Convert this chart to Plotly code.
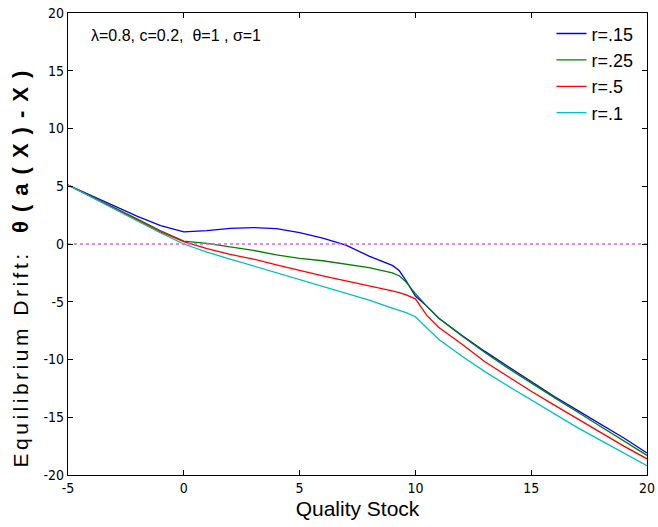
import plotly.graph_objects as go

# quality stock grid (shared by all curves)
x = [-5, -4, -3, -2, -1, 0, 1, 2, 3, 4, 5, 6, 7, 8, 9, 9.3, 9.6, 10,
     10.5, 11, 12, 13, 14, 15, 16, 17, 18, 19, 20]

# equilibrium drift for each discount rate
drift_r15 = [5.1, 4.2, 3.3, 2.4, 1.6, 1.05, 1.15, 1.35, 1.42, 1.33, 0.98, 0.5, -0.1,
             -1.05, -1.85, -2.3, -3.2, -4.5, -5.4, -6.4, -7.9, -9.3, -10.6, -11.9,
             -13.2, -14.4, -15.6, -16.8, -18.1]
drift_r25 = [5.1, 4.15, 3.15, 2.15, 1.15, 0.25, 0.05, -0.25, -0.55, -0.95, -1.25, -1.45,
             -1.75, -2.05, -2.5, -2.75, -3.3, -4.3, -5.4, -6.4, -7.95, -9.4, -10.75,
             -12.05, -13.3, -14.55, -15.8, -17.0, -18.3]
drift_r5 = [5.1, 4.1, 3.05, 2.05, 1.05, 0.2, -0.4, -0.9, -1.3, -1.8, -2.3, -2.75, -3.2,
            -3.6, -4.05, -4.2, -4.4, -4.75, -6.2, -7.2, -8.65, -10.2, -11.5, -12.75,
            -13.95, -15.15, -16.3, -17.5, -18.6]
drift_r1 = [5.1, 4.05, 3.0, 1.95, 0.95, 0.0, -0.7, -1.3, -1.9, -2.5, -3.1, -3.7, -4.3,
            -4.85, -5.55, -5.75, -5.95, -6.3, -7.3, -8.25, -9.7, -11.05, -12.3, -13.5,
            -14.7, -15.9, -17.0, -18.1, -19.2]

series = [
    ("r=.15", drift_r15, "#0000ff"),
    ("r=.25", drift_r25, "#008000"),
    ("r=.5", drift_r5, "#ff0000"),
    ("r=.1", drift_r1, "#00bfbf"),
]

x_range = [-5, 20]
y_range = [-20, 20]
ticks_x = [-5, 0, 5, 10, 15, 20]
ticks_y = [-20, -15, -10, -5, 0, 5, 10, 15, 20]

narrow = "Liberation Sans Narrow, Arial Narrow, DejaVu Sans Condensed, sans-serif"
sans = "Liberation Sans, Arial, Helvetica, sans-serif"

fig = go.Figure()
for name, vals, col in series:
    fig.add_trace(go.Scatter(x=x, y=vals, name=name, mode="lines",
                             line=dict(color=col, width=1.3)))

# zero drift reference
fig.add_trace(go.Scatter(x=x_range, y=[0, 0], mode="lines", showlegend=False,
                         line=dict(color="#e060e0", width=1.5, dash="dot"),
                         hoverinfo="skip"))

fig.add_annotation(text="λ=0.8, c=0.2,  θ=1 , σ=1", xref="paper", yref="paper",
                   x=0.037, y=0.952, xanchor="left", yanchor="middle", showarrow=False,
                   font=dict(family=sans, size=16, color="black"))

# the matlab ylabel is stretched along its length
ylab = ("<span style='letter-spacing:3.5px'>Equilibrium Drift:</span>   "
        "<b><span style='font-size:22px;letter-spacing:9px'>θ(a(X)-X)</span></b>")
fig.add_annotation(text=ylab, xref="paper", yref="paper", x=-0.082, y=0.011,
                   textangle=-90, xanchor="center", yanchor="bottom", showarrow=False,
                   font=dict(family=sans, size=21, color="black"))

axis_common = dict(showline=True, linecolor="black", linewidth=1.2, mirror="ticks",
                   ticks="inside", ticklen=5, tickcolor="black", showgrid=False,
                   zeroline=False, ticklabeloverflow="allow",
                   tickfont=dict(family=narrow, size=14, color="black"))

fig.update_layout(
    width=658, height=527,
    margin=dict(l=68, r=3, t=13, b=52),
    plot_bgcolor="white", paper_bgcolor="white",
    showlegend=True,
    legend=dict(x=0.835, y=0.995, xanchor="left", yanchor="top",
                bgcolor="rgba(0,0,0,0)", font=dict(family=sans, size=18, color="black"),
                tracegroupgap=0),
    xaxis=dict(range=x_range, tickvals=ticks_x, ticktext=[str(v) for v in ticks_x],
               title=dict(text="Quality Stock", font=dict(family=sans, size=21, color="black"),
                          standoff=6),
               **axis_common),
    yaxis=dict(range=y_range, tickvals=ticks_y, ticktext=[str(v) for v in ticks_y],
               **axis_common),
)

fig.write_html("out.html", config={"displayModeBar": False},
               post_script="document.body.style.margin='0';")
